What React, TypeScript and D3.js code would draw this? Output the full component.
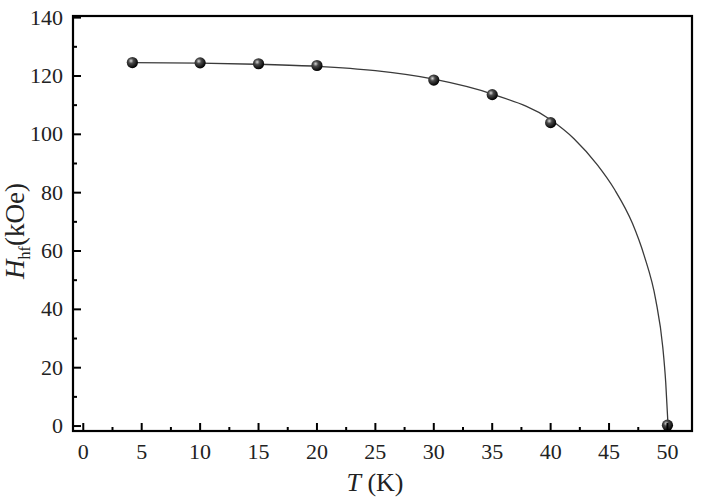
import React from "react";
import * as d3 from "d3";

// measured points
const temps = [4.2, 10, 15, 20, 30, 35, 40, 50];
const fields = [124.6, 124.5, 124.2, 123.6, 118.6, 113.6, 104.0, 0.3];

// fit curve
const fitT = [4.2, 10, 15, 20, 25, 30, 35, 40, 42, 44, 45.5, 47, 48, 49, 49.6, 49.85, 50.05];
const fitH = [124.6, 124.4, 124.0, 123.3, 121.8, 118.9, 113.8, 105.0, 98.5, 89.5, 80.9, 69.5, 58.5, 43.2, 27.0, 15.0, 0.3];

const xMajor = [0, 5, 10, 15, 20, 25, 30, 35, 40, 45, 50];
const xMinor = [2.5, 7.5, 12.5, 17.5, 22.5, 27.5, 32.5, 37.5, 42.5, 47.5];
const yMajor = [0, 20, 40, 60, 80, 100, 120, 140];
const yMinor = [10, 30, 50, 70, 90, 110, 130];

const W = 701;
const H = 498;
const left = 73;
const right = 692;
const top = 16;
const bottom = 431;
const FONT = "'Liberation Serif', 'Times New Roman', serif";

export default function App() {
  const x = d3.scaleLinear().domain([-0.88, 52.1]).range([left, right]);
  const y = d3.scaleLinear().domain([-1.7, 140.56]).range([bottom, top]);

  const line = d3
    .line<number>()
    .x((_, i) => x(fitT[i]))
    .y((d) => y(d))
    .curve(d3.curveMonotoneX);

  return (
    <svg
      width={W}
      height={H}
      style={{ position: "absolute", left: 0, top: 0, background: "#fff" }}
      fontFamily={FONT}
    >
      <defs>
        <radialGradient id="ball" cx="0.38" cy="0.35" r="0.65">
          <stop offset="0" stopColor="#d8d8d8" />
          <stop offset="0.35" stopColor="#4a4a4a" />
          <stop offset="1" stopColor="#000" />
        </radialGradient>
      </defs>

      {/* fit line */}
      <path d={line(fitH) || ""} fill="none" stroke="#3a3a3a" strokeWidth={1.3} />

      {/* points */}
      {temps.map((t, i) => (
        <circle key={i} cx={x(t)} cy={y(fields[i])} r={5.6} fill="url(#ball)" />
      ))}

      {/* frame */}
      <rect
        x={left}
        y={top}
        width={right - left}
        height={bottom - top}
        fill="none"
        stroke="#000"
        strokeWidth={2.2}
      />

      {/* x ticks */}
      {xMajor.map((v) => (
        <g key={"xM" + v}>
          <line x1={x(v)} x2={x(v)} y1={bottom} y2={bottom - 8} stroke="#000" strokeWidth={2} />
          <text x={x(v)} y={459} textAnchor="middle" fontSize={22} fill="#222">
            {v}
          </text>
        </g>
      ))}
      {xMinor.map((v) => (
        <line key={"xm" + v} x1={x(v)} x2={x(v)} y1={bottom} y2={bottom - 4} stroke="#000" strokeWidth={2} />
      ))}

      {/* y ticks */}
      {yMajor.map((v) => (
        <g key={"yM" + v}>
          <line x1={left} x2={left + 8} y1={y(v)} y2={y(v)} stroke="#000" strokeWidth={2} />
          <text x={63} y={y(v) + 7} textAnchor="end" fontSize={22} fill="#222">
            {v}
          </text>
        </g>
      ))}
      {yMinor.map((v) => (
        <line key={"ym" + v} x1={left} x2={left + 4} y1={y(v)} y2={y(v)} stroke="#000" strokeWidth={2} />
      ))}

      {/* axis titles */}
      <text x={375} y={491} textAnchor="middle" fontSize={26} fill="#222">
        <tspan fontStyle="italic">T</tspan>
        <tspan> (K)</tspan>
      </text>
      <text
        transform={`translate(24, 231) rotate(-90)`}
        textAnchor="middle"
        fontSize={27}
        fill="#222"
      >
        <tspan fontStyle="italic">H</tspan>
        <tspan fontSize={16} dy={6}>hf</tspan>
        <tspan dy={-6}>(kOe)</tspan>
      </text>
    </svg>
  );
}
